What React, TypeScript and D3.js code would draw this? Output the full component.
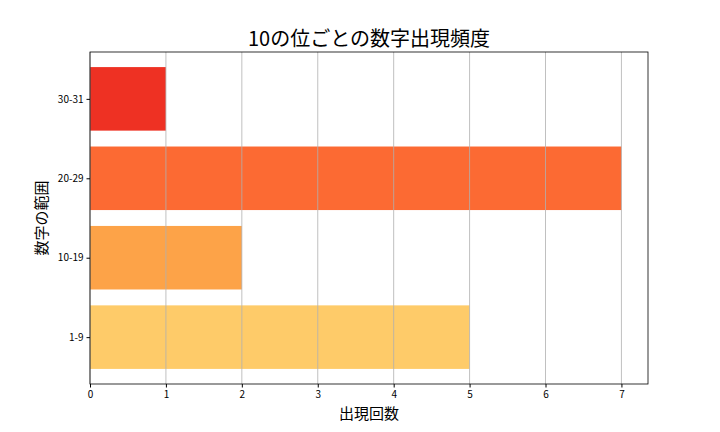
import { useEffect, useRef } from 'react';
import * as d3 from 'd3';

const categories = ['1-9', '10-19', '20-29', '30-31'];
const counts = [5, 2, 7, 1];
const barColors = ['#fecb69', '#fda348', '#fc6a33', '#ee3123'];
const xTicks = [0, 1, 2, 3, 4, 5, 6, 7];

const App = () => {
  const svgRef = useRef<SVGSVGElement>(null);

  useEffect(() => {
    const svg = d3.select(svgRef.current);
    svg.selectAll('*').remove();

    const font = '"Noto Sans CJK JP", "Noto Sans", sans-serif';
    const margin = { top: 52, right: 72, bottom: 48, left: 90 };
    const width = 720;
    const height = 432;
    const innerW = width - margin.left - margin.right;
    const innerH = height - margin.top - margin.bottom;

    const x = d3.scaleLinear().domain([0, 7.35]).range([0, innerW]);
    // matplotlib-style barh: categories at 0..3, bar height 0.8, 5% margins
    const y = d3.scaleLinear().domain([-0.59, 3.59]).range([innerH, 0]);

    const g = svg.append('g').attr('transform', `translate(${margin.left},${margin.top})`);

    g.selectAll('rect.bar')
      .data(counts)
      .enter()
      .append('rect')
      .attr('class', 'bar')
      .attr('x', x(0))
      .attr('y', (d, i) => y(i + 0.4))
      .attr('width', d => x(d) - x(0))
      .attr('height', y(-0.4) - y(0.4))
      .attr('fill', (d, i) => barColors[i]);

    // vertical grid over the bars
    g.selectAll('line.grid')
      .data(xTicks)
      .enter()
      .append('line')
      .attr('class', 'grid')
      .attr('x1', d => x(d))
      .attr('x2', d => x(d))
      .attr('y1', 0)
      .attr('y2', innerH)
      .attr('stroke', '#b0b0b0')
      .attr('stroke-width', 0.8);

    g.append('rect')
      .attr('width', innerW)
      .attr('height', innerH)
      .attr('fill', 'none')
      .attr('stroke', '#000')
      .attr('stroke-width', 0.8);

    const xAxis = g.append('g')
      .attr('transform', `translate(0,${innerH})`)
      .call(d3.axisBottom(x).tickValues(xTicks).tickFormat(d3.format('d')).tickSize(3.5).tickPadding(3));
    xAxis.select('.domain').remove();
    xAxis.selectAll('text').attr('font-family', font).attr('font-size', 10).attr('fill', '#000');

    const yAxis = g.append('g')
      .call(d3.axisLeft(y).tickValues([0, 1, 2, 3]).tickFormat((d: any) => categories[d]).tickSize(3.5).tickPadding(3));
    yAxis.select('.domain').remove();
    yAxis.selectAll('text').attr('font-family', font).attr('font-size', 10).attr('fill', '#000');

    svg.append('text')
      .attr('x', margin.left + innerW / 2)
      .attr('y', 46)
      .attr('text-anchor', 'middle')
      .attr('font-family', font)
      .attr('font-size', 20)
      .text('10の位ごとの数字出現頻度');

    svg.append('text')
      .attr('x', margin.left + innerW / 2)
      .attr('y', 419)
      .attr('text-anchor', 'middle')
      .attr('font-family', font)
      .attr('font-size', 15)
      .text('出現回数');

    svg.append('text')
      .attr('transform', `translate(47,${margin.top + innerH / 2}) rotate(-90)`)
      .attr('text-anchor', 'middle')
      .attr('font-family', font)
      .attr('font-size', 15)
      .text('数字の範囲');
  }, []);

  return (
    <svg ref={svgRef} width={720} height={432} style={{ position: 'absolute', left: 0, top: 0 }}></svg>
  );
};

export default App;
